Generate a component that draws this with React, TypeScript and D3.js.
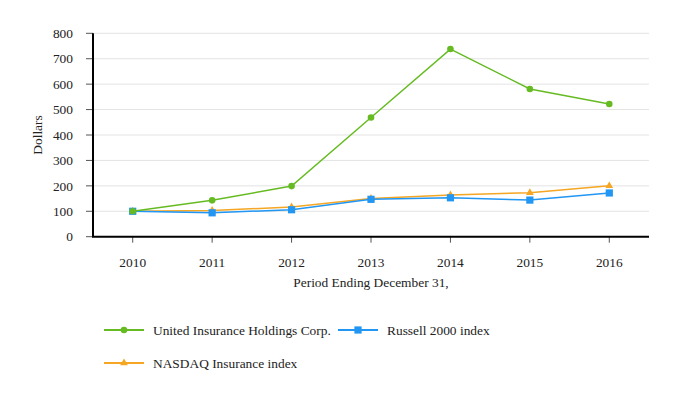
import React from "react";
import * as d3 from "d3";

const years = ["2010", "2011", "2012", "2013", "2014", "2015", "2016"];
const uihc = [100, 143, 199, 469, 738, 581, 522];
const russell = [100, 94, 106, 147, 153, 144, 172];
const nasdaq = [100, 103, 117, 150, 164, 173, 200];
const yTicks = [0, 100, 200, 300, 400, 500, 600, 700, 800];

const seriesNames = ["United Insurance Holdings Corp.", "Russell 2000 index", "NASDAQ Insurance index"];
const colors = ["#66bb22", "#2196f3", "#f5a623"];

const W = 682, H = 400;
const left = 93, right = 649, top = 33.3, bottom = 236.7;
const font = "'Liberation Serif', 'Times New Roman', serif";
const fs = 13.4;

export default function App() {
  const x = d3.scalePoint<string>().domain(years).range([left, right]).padding(0.5);
  const y = d3.scaleLinear().domain([0, 800]).range([bottom, top]);
  const line = d3.line<number>().x((_, i) => x(years[i]) as number).y((d) => y(d));
  const series = [uihc, russell, nasdaq];

  const marker = (k: number, cx: number, cy: number, key: any) => {
    const c = colors[k];
    if (k === 0) return <circle key={key} cx={cx} cy={cy} r={3.3} fill={c} />;
    if (k === 1) return <rect key={key} x={cx - 3.6} y={cy - 3.6} width={7.2} height={7.2} fill={c} />;
    const tri = d3.symbol().type(d3.symbolTriangle).size(26)();
    return <path key={key} d={tri as string} transform={`translate(${cx},${cy})`} fill={c} />;
  };

  const legend = [
    { k: 0, lx: 104, ly: 330 },
    { k: 1, lx: 338, ly: 330 },
    { k: 2, lx: 104, ly: 363 },
  ];

  return (
    <svg width={W} height={H} style={{ position: "absolute", left: 0, top: 0, background: "#fff" }} fontFamily={font}>
      {yTicks.map((t) => (
        <g key={t}>
          {t > 0 && <line x1={left} x2={right} y1={y(t)} y2={y(t)} stroke="#e3e3e3" strokeWidth={1} />}
          <line x1={left - 7} x2={left} y1={y(t)} y2={y(t)} stroke="#555" strokeWidth={1} />
          <text x={73} y={y(t)} dy="0.35em" textAnchor="end" fontSize={fs} fill="#222">{t}</text>
        </g>
      ))}
      {years.map((yr) => (
        <g key={yr}>
          <line x1={x(yr)} x2={x(yr)} y1={bottom} y2={bottom + 6} stroke="#555" strokeWidth={1} />
          <text x={x(yr)} y={266.5} textAnchor="middle" fontSize={fs} fill="#222">{yr}</text>
        </g>
      ))}
      <line x1={left} x2={left} y1={top} y2={bottom} stroke="#000" strokeWidth={2} />
      <line x1={left - 1} x2={right} y1={bottom} y2={bottom} stroke="#000" strokeWidth={2} />
      <text transform={`translate(42,${(top + bottom) / 2}) rotate(-90)`} textAnchor="middle" fontSize={fs} fill="#222">Dollars</text>
      <text x={(left + right) / 2} y={287} textAnchor="middle" fontSize={fs} fill="#222">Period Ending December 31,</text>
      {[2, 1, 0].map((k) => (
        <g key={k}>
          <path d={line(series[k]) as string} fill="none" stroke={colors[k]} strokeWidth={1.5} />
          {series[k].map((v, i) => marker(k, x(years[i]) as number, y(v), i))}
        </g>
      ))}
      {legend.map(({ k, lx, ly }) => (
        <g key={k}>
          <line x1={lx} x2={lx + 40} y1={ly} y2={ly} stroke={colors[k]} strokeWidth={2} />
          {marker(k, lx + 20, ly, "m")}
          <text x={lx + 49} y={ly} dy="0.35em" fontSize={fs} fill="#222">{seriesNames[k]}</text>
        </g>
      ))}
    </svg>
  );
}
